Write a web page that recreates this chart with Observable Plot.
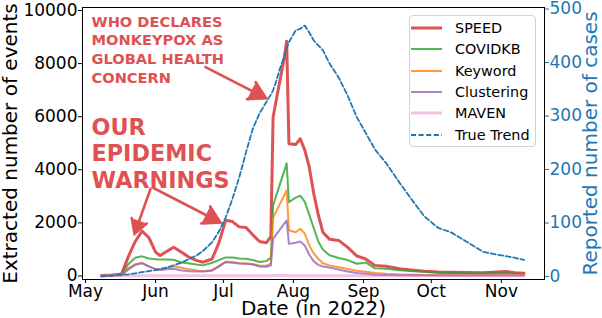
<!DOCTYPE html>
<html>
<head>
<meta charset="utf-8">
<script src="https://cdn.jsdelivr.net/npm/d3@7"></script>
<script src="https://cdn.jsdelivr.net/npm/@observablehq/plot@0.6"></script>
<style>
  body { margin: 0; background: #fff; }
  #wrap { position: relative; width: 602px; height: 318px; font-family: "DejaVu Sans", sans-serif; }
  #wrap svg { position: absolute; left: 0; top: 0; }
  .legend { position: absolute; left: 409px; top: 15px; width: 127px; height: 132px; box-sizing: border-box;
            border: 1px solid #d3d3d3; border-radius: 4px; background: rgba(255,255,255,0.8); }
  .legend .row { position: absolute; left: 0; height: 20px; width: 125px; }
  .legend .row svg { position: absolute; left: 4px; top: 0; }
  .legend .row span { position: absolute; left: 45px; top: 1px; font-size: 14.4px; line-height: 18px; color: #000; white-space: nowrap; }
</style>
</head>
<body>
<div id="wrap"></div>
<script>
// ---------- data ----------
const dates = [
  "2022-05-08","2022-05-13","2022-05-17","2022-05-20","2022-05-23","2022-05-26","2022-05-29",
  "2022-06-01","2022-06-03","2022-06-06","2022-06-09","2022-06-12","2022-06-16","2022-06-19","2022-06-22","2022-06-26","2022-06-29",
  "2022-07-02","2022-07-05","2022-07-08","2022-07-11","2022-07-14","2022-07-17","2022-07-20","2022-07-22",
  "2022-07-23","2022-07-24","2022-07-26","2022-07-28","2022-07-29","2022-07-30",
  "2022-08-02","2022-08-04","2022-08-06","2022-08-08","2022-08-10","2022-08-12","2022-08-14","2022-08-17","2022-08-21","2022-08-25","2022-08-29",
  "2022-09-02","2022-09-06","2022-09-11","2022-09-17","2022-09-23","2022-09-28",
  "2022-10-04","2022-10-10","2022-10-17","2022-10-24","2022-10-30",
  "2022-11-03","2022-11-07","2022-11-11"
];
const speed = [20,40,80,740,1300,1690,1450, 900,770,930,1080,920,700,590,520,640,1250,
  2100,2050,1850,1830,1550,1300,1250,1480, 5980,6450,7350,8250,8843,4980,
  4950,5170,4750,4100,3100,2300,1650,1380,1340,1080,760, 640,400,370,270,220,180, 150,140,130,120,150, 170,120,100];
const covidkb = [20,30,60,450,690,740,660, 630,620,620,610,520,470,430,400,500,600,
  700,700,660,650,600,530,560,700, 2650,2920,3450,3980,4248,2780,
  2950,3030,2800,2300,1800,1300,1000,780,680,600,460, 510,290,270,220,180,160, 120,110,100,100,100, 100,90,60];
const keyword = [10,20,40,300,440,490,360, 260,240,300,370,320,250,210,180,230,380,
  540,530,480,470,450,400,390,460, 2200,2370,2710,3050,3220,1720,
  1650,1780,1600,1150,850,650,480,400,330,260,200, 160,110,80,60,50,40, 40,40,35,35,40, 40,40,35];
const clustering = [10,20,40,250,420,480,360, 260,230,250,270,220,180,170,170,200,350,
  520,500,470,460,430,360,350,400, 1400,1520,1750,1980,2090,1210,
  1250,1300,1150,800,550,420,360,320,240,170,110, 80,50,35,30,25,25, 20,20,20,20,20, 20,20,20];
const maven = [5,8,10,12,12,12,10, 10,10,10,10,10,10,10,10,10,10,
  12,12,12,12,12,12,12,12, 15,15,15,15,15,12,
  12,12,12,12,10,10,10,10,10,10,10, 8,8,8,8,8,8, 8,8,8,8,8, 8,8,8];
const trueTrend = [0,2,3,4,6,8,10, 12,14,17,21,25,33,39,48,64,84,
  110,145,185,232,276,305,326,340, 348,360,388,412,426,438,
  460,463,469,456,441,432,423,398,372,338,298, 268,238,212,175,140,112, 91,82,64,46,41, 38,35,31];

const seriesNames = ["SPEED","COVIDKB","Keyword","Clustering","MAVEN","True Trend"];
const leftTicks = [0,2000,4000,6000,8000,10000];
const rightTicks = [0,100,200,300,400,500];
const monthTicks = ["2022-05-01","2022-06-01","2022-07-01","2022-08-01","2022-09-01","2022-10-01","2022-11-01"];

// annotations (data coordinates)
const whoNote = [{date: "2022-05-03T16:00:00Z", value: 9900, text: "WHO DECLARES\nMONKEYPOX AS\nGLOBAL HEALTH\nCONCERN"}];
const ourNote = [{date: "2022-05-03T16:00:00Z", value: 6045, text: "OUR\nEPIDEMIC\nWARNINGS"}];
const arrows = [
  {x1: "2022-06-23T02:00:00Z", y1: 7865, x2: "2022-07-19T22:00:00Z", y2: 6697},
  {x1: "2022-05-29T19:00:00Z", y1: 3284, x2: "2022-05-22T17:00:00Z", y2: 1590},
  {x1: "2022-05-31T02:00:00Z", y1: 3315, x2: "2022-06-29T17:00:00Z", y2: 2015}
];

// ---------- build ----------
const toDate = s => new Date(s.length === 10 ? s + "T00:00:00Z" : s);
const X = dates.map(toDate);
const lDomain = [-132, 10113];
const rDomain = [-5.6, 502.8];
const r2l = d3.scaleLinear(rDomain, lDomain);
const blue = "#1f77b4";
const red = "#de5253";

const styles = {
  "SPEED":      {stroke: "#d62728", strokeWidth: 3, strokeOpacity: 0.8},
  "COVIDKB":    {stroke: "#2ca02c", strokeWidth: 2, strokeOpacity: 0.8},
  "Keyword":    {stroke: "#ff7f0e", strokeWidth: 2, strokeOpacity: 0.8},
  "Clustering": {stroke: "#9467bd", strokeWidth: 2, strokeOpacity: 0.8},
  "MAVEN":      {stroke: "#e377c2", strokeWidth: 3, strokeOpacity: 0.45},
  "True Trend": {stroke: blue, strokeWidth: 1.8, strokeDasharray: "5,2.6"}
};
const valuesBy = {"SPEED": speed, "COVIDKB": covidkb, "Keyword": keyword, "Clustering": clustering, "MAVEN": maven};

const lineMarks = Object.keys(valuesBy).map(name =>
  Plot.line(X.map((d, i) => ({date: d, value: valuesBy[name][i]})), {x: "date", y: "value", ...styles[name]})
);
const trendMark = Plot.line(X.map((d, i) => ({date: d, value: r2l(trueTrend[i])})), {x: "date", y: "value", ...styles["True Trend"]});

const chart = Plot.plot({
  width: 602, height: 318,
  marginLeft: 82, marginRight: 58, marginTop: 7, marginBottom: 39,
  x: {type: "utc", domain: [new Date(Date.UTC(2022, 3, 29, 16)), new Date(Date.UTC(2022, 10, 20, 2))]},
  y: {domain: lDomain},
  style: {fontFamily: "DejaVu Sans, sans-serif", fontSize: "17px", color: "black", background: "white", overflow: "visible"},
  marks: [
    ...lineMarks,
    trendMark,
    Plot.frame({stroke: "#000", strokeWidth: 1}),
    Plot.axisX(monthTicks.map(toDate), {tickFormat: d3.utcFormat("%b"), tickSize: 4, tickPadding: 1, fontSize: 17, label: null, stroke: "#000", fill: "#000"}),
    Plot.axisY(leftTicks, {anchor: "left", tickFormat: d3.format("d"), tickSize: 4, tickPadding: 1, fontSize: 17, label: null, stroke: "#000", fill: "#000"}),
    Plot.axisY(rightTicks.map(r2l), {anchor: "right", tickFormat: v => String(Math.round(r2l.invert(v))), tickSize: 4, tickPadding: 1, fontSize: 17, label: null, stroke: blue, fill: blue}),
    Plot.text(["Date (in 2022)"], {frameAnchor: "bottom", dy: 29.5, fontSize: 20, textAnchor: "middle", lineAnchor: "middle", fill: "#000"}),
    Plot.text(["Extracted number of events"], {frameAnchor: "left", dx: -71.5, rotate: -90, fontSize: 20, textAnchor: "middle", lineAnchor: "middle", fill: "#000"}),
    Plot.text(["Reported number of cases"], {frameAnchor: "right", dx: 46, rotate: -90, fontSize: 20, textAnchor: "middle", lineAnchor: "middle", fill: blue}),
    Plot.text(whoNote, {x: d => toDate(d.date), y: "value", text: "text", textAnchor: "start", lineAnchor: "top", fontWeight: "bold", fontSize: 14.6, lineHeight: 1.29, fill: red}),
    Plot.text(ourNote, {x: d => toDate(d.date), y: "value", text: "text", textAnchor: "start", lineAnchor: "top", fontWeight: "bold", fontSize: 22.3, lineHeight: 1.2, fill: red}),
    Plot.arrow(arrows, {x1: d => toDate(d.x1), y1: "y1", x2: d => toDate(d.x2), y2: "y2", stroke: red, fill: red, strokeWidth: 2.6, headLength: 11, headAngle: 60, strokeLinejoin: "miter", strokeMiterlimit: 4})
  ]
});
const wrap = document.getElementById("wrap");
wrap.appendChild(chart);

// legend (inside the axes, upper right)
const legend = document.createElement("div");
legend.className = "legend";
seriesNames.forEach((name, i) => {
  const row = document.createElement("div");
  row.className = "row";
  row.style.top = (2 + i * 21.3) + "px";
  const st = styles[name];
  row.innerHTML = `<svg width="34" height="20"><line x1="1" x2="32" y1="10" y2="10" stroke="${st.stroke}" stroke-width="${st.strokeWidth}" stroke-opacity="${st.strokeOpacity ?? 1}" ${st.strokeDasharray ? `stroke-dasharray="${st.strokeDasharray}"` : ""}/></svg><span>${name}</span>`;
  legend.appendChild(row);
});
wrap.appendChild(legend);
</script>
</body>
</html>
